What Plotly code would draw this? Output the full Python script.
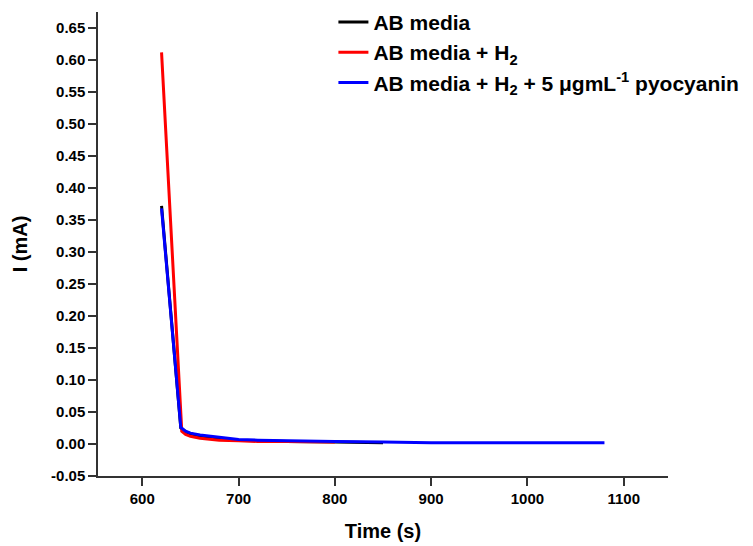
import plotly.graph_objects as go

# Data
t_black = [620, 640, 645, 650, 660, 670, 680, 700, 720, 750, 800, 850]
i_black = [0.372, 0.025, 0.019, 0.016, 0.012, 0.010, 0.008, 0.006, 0.005, 0.004, 0.003, 0.002]

t_red = [620, 641, 645, 650, 660, 670, 680, 700, 720, 750, 800]
i_red = [0.612, 0.020, 0.015, 0.012, 0.009, 0.007, 0.006, 0.005, 0.004, 0.004, 0.003]

t_blue = [620, 640, 645, 650, 660, 670, 680, 700, 720, 750, 800, 850, 900, 1000, 1080]
i_blue = [0.368, 0.026, 0.020, 0.017, 0.014, 0.012, 0.010, 0.007, 0.006, 0.005, 0.004, 0.003, 0.002, 0.002, 0.002]

names = ["AB media", "AB media + H<sub>2</sub>",
         "AB media + H<sub>2</sub> + 5 μgmL<sup>-1</sup> pyocyanin"]
colors = ["#000000", "#ff0000", "#0000ff"]

x_ticks = [600, 700, 800, 900, 1000, 1100]
y_ticks = [-0.05, 0.00, 0.05, 0.10, 0.15, 0.20, 0.25, 0.30, 0.35, 0.40, 0.45, 0.50, 0.55, 0.60, 0.65]

fig = go.Figure()
for t, i, n, c in zip([t_black, t_red, t_blue], [i_black, i_red, i_blue], names, colors):
    fig.add_trace(go.Scatter(x=t, y=i, name=n, mode="lines",
                             line=dict(color=c, width=3)))

font_family = "Liberation Sans, Arial, sans-serif"
fig.update_layout(
    width=753, height=546,
    margin=dict(l=98, r=85, t=12, b=70, autoexpand=False),
    paper_bgcolor="white", plot_bgcolor="white",
    font=dict(family=font_family, color="black"),
    showlegend=True,
    legend=dict(x=0.413, y=1.022, xanchor="left", yanchor="top",
                bgcolor="rgba(0,0,0,0)",
                font=dict(size=21, family=font_family, color="black", weight="bold"),
                itemwidth=30, tracegroupgap=0),
)
fig.update_xaxes(range=[554, 1146], tickvals=x_ticks,
                 ticktext=[str(v) for v in x_ticks],
                 showline=True, linecolor="#333333", linewidth=1.5,
                 ticks="outside", ticklen=8, tickcolor="#333333", tickwidth=1.5,
                 showgrid=False, zeroline=False,
                 tickfont=dict(size=15, weight="bold"),
                 title=dict(text="Time (s)", font=dict(size=20, weight="bold"), standoff=18))
fig.update_yaxes(range=[-0.05, 0.675], tickvals=y_ticks,
                 ticktext=["%.2f" % v for v in y_ticks],
                 showline=True, linecolor="#333333", linewidth=1.5,
                 ticks="outside", ticklen=8, tickcolor="#333333", tickwidth=1.5,
                 showgrid=False, zeroline=False,
                 tickfont=dict(size=15, weight="bold"),
                 title=dict(text="I (mA)", font=dict(size=20, weight="bold"), standoff=18))

fig.write_html("out.html")
